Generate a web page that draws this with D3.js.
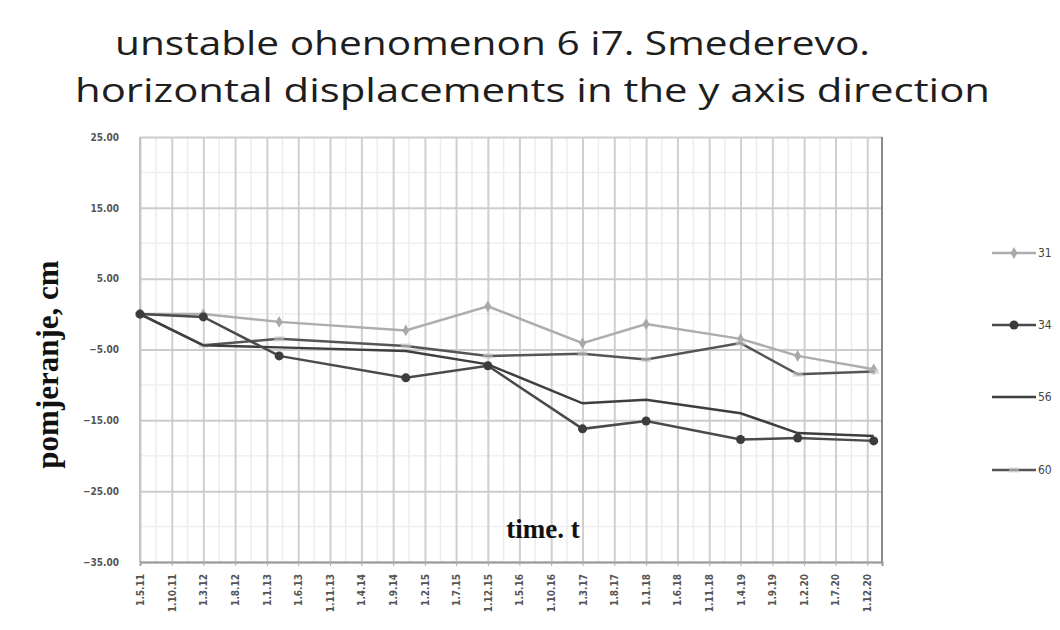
<!DOCTYPE html>
<html>
<head>
<meta charset="utf-8">
<script src="https://cdn.jsdelivr.net/npm/d3@7"></script>
<style>
  body { margin: 0; background: #fff; }
  svg { display: block; }
</style>
</head>
<body>
<div id="chart"></div>
<script>
// measurement dates (d.m.yy)
const measureDates = ["1.5.11", "1.3.12", "1.3.13", "1.11.14", "1.12.15", "1.3.17", "1.1.18", "1.4.19", "1.1.20", "1.1.21"];

// displacements in cm, one array per point
const s31 = [0, 0, -1.1, -2.3, 1.1, -4.1, -1.4, -3.5, -5.9, -7.8];
const s34 = [0, -0.4, -5.9, -9.0, -7.3, -16.2, -15.1, -17.7, -17.5, -17.9];
const s56 = [0, -4.4, -4.7, -5.2, -7.1, -12.6, -12.1, -14.0, -16.8, -17.2];
const s60 = [0, -4.4, -3.5, -4.5, -5.9, -5.6, -6.4, -4.1, -8.5, -8.1];

const seriesNames = ["31", "34", "56", "60"];

const xTickLabels = ["1.5.11", "1.10.11", "1.3.12", "1.8.12", "1.1.13", "1.6.13", "1.11.13", "1.4.14",
  "1.9.14", "1.2.15", "1.7.15", "1.12.15", "1.5.16", "1.10.16", "1.3.17", "1.8.17", "1.1.18",
  "1.6.18", "1.11.18", "1.4.19", "1.9.19", "1.2.20", "1.7.20", "1.12.20"];
const yTicks = [25, 15, 5, -5, -15, -25, -35];

const parseDate = d3.timeParse("%d.%m.%y");

const W = 1060, H = 630;
const plot = { left: 140, right: 882, top: 137, bottom: 562 };

const svg = d3.select("#chart").append("svg").attr("width", W).attr("height", H);

const x = d3.scaleTime()
  .domain([parseDate("1.5.11"), parseDate("10.2.21")])
  .range([plot.left, plot.right]);

const y = d3.scaleLinear()
  .domain([-35, 25])
  .range([plot.bottom, plot.top]);

// style per series
const styles = {
  "31": { color: "#adadad", marker: "diamond", mcolor: "#a8a8a8" },
  "34": { color: "#4a4a4a", marker: "circle", mcolor: "#3c3c3c" },
  "56": { color: "#3e3e3e", marker: null },
  "60": { color: "#555555", marker: "dash", mcolor: "#c4c4c4" }
};

const seriesData = [s31, s34, s56, s60].map((vals, i) => ({
  name: seriesNames[i],
  points: vals.map((v, j) => ({ date: parseDate(measureDates[j]), value: v }))
}));

// title
const title = svg.append("g")
  .attr("font-family", "'Open Sans', sans-serif")
  .attr("fill", "#1e1e1e")
  .attr("font-size", 33);
title.append("text").attr("x", 115).attr("y", 55)
  .attr("textLength", 755).attr("lengthAdjust", "spacingAndGlyphs")
  .text("unstable ohenomenon 6 i7. Smederevo.");
title.append("text").attr("x", 75).attr("y", 102)
  .attr("textLength", 915).attr("lengthAdjust", "spacingAndGlyphs")
  .text("horizontal displacements in the y axis direction");

// minor vertical gridlines halfway between labels
const tickDates = xTickLabels.map(parseDate);
const minorDates = tickDates.slice(0, -1).map((d, i) => new Date((+d + +tickDates[i + 1]) / 2));
svg.append("g").selectAll("line").data(minorDates).enter().append("line")
  .attr("x1", d => x(d)).attr("x2", d => x(d))
  .attr("y1", plot.top).attr("y2", plot.bottom)
  .attr("stroke", "#ececec").attr("stroke-width", 1.5);

// minor horizontal gridlines
const minorY = d3.range(-30, 25, 10);
svg.append("g").selectAll("line").data(minorY).enter().append("line")
  .attr("x1", plot.left).attr("x2", plot.right)
  .attr("y1", d => y(d)).attr("y2", d => y(d))
  .attr("stroke", "#f0f0f0").attr("stroke-width", 1.5);

// major gridlines
svg.append("g")
  .attr("transform", `translate(0,${plot.bottom})`)
  .call(d3.axisBottom(x).tickValues(tickDates).tickSize(-(plot.bottom - plot.top)).tickFormat(""))
  .call(g => g.select(".domain").remove())
  .call(g => g.selectAll("line").attr("stroke", "#cfcfcf").attr("stroke-width", 2));

svg.append("g")
  .attr("transform", `translate(${plot.left},0)`)
  .call(d3.axisLeft(y).tickValues(yTicks).tickSize(-(plot.right - plot.left)).tickFormat(""))
  .call(g => g.select(".domain").remove())
  .call(g => g.selectAll("line").attr("stroke", "#cccccc").attr("stroke-width", 2));

// plot border
svg.append("line").attr("x1", plot.left).attr("x2", plot.left)
  .attr("y1", plot.top).attr("y2", plot.bottom).attr("stroke", "#c4c4c4").attr("stroke-width", 2);
svg.append("line").attr("x1", plot.right).attr("x2", plot.right)
  .attr("y1", plot.top).attr("y2", plot.bottom).attr("stroke", "#8a8a8a").attr("stroke-width", 2);

// y axis labels
svg.append("g")
  .attr("transform", `translate(${plot.left - 18},0)`)
  .call(d3.axisLeft(y).tickValues(yTicks).tickSize(0).tickFormat(d3.format(".2f")))
  .call(g => g.select(".domain").remove())
  .call(g => g.selectAll("text")
    .attr("font-family", "'DejaVu Sans Condensed', 'DejaVu Sans', sans-serif")
    .attr("font-size", 10).attr("font-weight", "bold").attr("fill", "#555"));

// x axis
const xAxis = svg.append("g")
  .attr("transform", `translate(0,${plot.bottom})`)
  .call(d3.axisBottom(x).tickValues(tickDates).tickSize(4).tickFormat((d, i) => xTickLabels[i]));
xAxis.select(".domain").attr("stroke", "#9a9a9a").attr("stroke-width", 2);
xAxis.selectAll("line").attr("stroke", "#aaa");
xAxis.selectAll("text")
  .attr("font-family", "'DejaVu Sans Condensed', 'DejaVu Sans', sans-serif")
  .attr("font-size", 10).attr("font-weight", "bold").attr("fill", "#555")
  .attr("text-anchor", "end")
  .attr("transform", "rotate(-90)")
  .attr("x", -12).attr("y", 0).attr("dy", "0.35em");

// axis titles
svg.append("text")
  .attr("transform", `translate(58,${(plot.top + plot.bottom) / 2 + 15}) rotate(-90)`)
  .attr("text-anchor", "middle")
  .attr("font-family", "'Liberation Serif', 'DejaVu Serif', serif")
  .attr("font-weight", "bold").attr("font-size", 31).attr("fill", "#111")
  .text("pomjeranje, cm");

svg.append("text")
  .attr("x", 543).attr("y", 538)
  .attr("text-anchor", "middle")
  .attr("font-family", "'Liberation Serif', 'DejaVu Serif', serif")
  .attr("font-weight", "bold").attr("font-size", 27).attr("fill", "#111")
  .text("time. t");

// lines
const line = d3.line().x(d => x(d.date)).y(d => y(d.value));

const drawOrder = ["31", "60", "56", "34"];
drawOrder.forEach(name => {
  const s = seriesData.find(d => d.name === name);
  const st = styles[name];
  svg.append("path").datum(s.points)
    .attr("fill", "none").attr("stroke", st.color).attr("stroke-width", 2.5)
    .attr("d", line);
  drawMarkers(svg, s.points.map(p => [x(p.date), y(p.value)]), st);
});

function drawMarkers(g, pts, st) {
  if (st.marker === "circle") {
    g.append("g").selectAll("circle").data(pts).enter().append("circle")
      .attr("cx", d => d[0]).attr("cy", d => d[1]).attr("r", 4.5).attr("fill", st.mcolor);
  } else if (st.marker === "diamond") {
    g.append("g").selectAll("path").data(pts).enter().append("path")
      .attr("transform", d => `translate(${d[0]},${d[1]})`)
      .attr("d", d3.symbol(d3.symbolDiamond, 40)).attr("fill", st.mcolor);
  } else if (st.marker === "dash") {
    g.append("g").selectAll("rect").data(pts).enter().append("rect")
      .attr("x", d => d[0] - 5).attr("y", d => d[1] - 2.5).attr("width", 10).attr("height", 5)
      .attr("fill", st.mcolor).attr("opacity", 0.6);
  }
}

// legend
const legendY = [253, 325, 397, 470];
const legend = svg.append("g");
seriesNames.forEach((name, i) => {
  const st = styles[name];
  const gy = legendY[i];
  legend.append("line").attr("x1", 992).attr("x2", 1036).attr("y1", gy).attr("y2", gy)
    .attr("stroke", st.color).attr("stroke-width", 2.5);
  drawMarkers(legend, [[1014, gy]], st);
  legend.append("text").attr("x", 1038).attr("y", gy).attr("dy", "0.35em")
    .attr("font-family", "'DejaVu Sans Condensed', 'DejaVu Sans', sans-serif")
    .attr("font-size", 12).attr("fill", "#444")
    .text(name);
});
</script>
</body>
</html>
